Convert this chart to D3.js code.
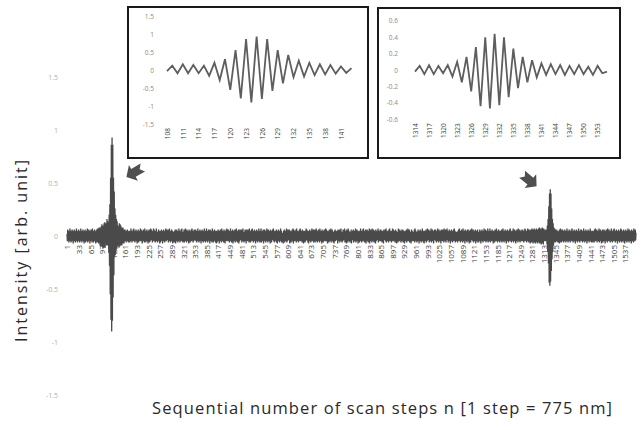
<!DOCTYPE html>
<html lang="en">
<head>
<meta charset="UTF-8">
<title>Interferogram scan</title>
<script src="https://cdn.jsdelivr.net/npm/d3@7"></script>
<style>
  body { margin: 0; background: #fff; }
  text { font-family: "Open Sans", "DejaVu Sans", sans-serif; }
</style>
</head>
<body>
<svg id="main" width="642" height="430"></svg>
<script>
const svg = d3.select('svg#main');

// scan segments, each one starts at its own step number
const segmentStarts = [1, 108, 144, 1314, 1356];

// baseline before first burst (hundredths)
const noiseA = [
  2,-5,6,-4,5,-6,3,-5,7,-4,5,-6,4,-5,6,-3,5,-7,4,-5,6,-4,3,-6,5,-5,7,-4,4,-6,
  5,-4,6,-5,3,-6,5,-4,7,-5,4,-6,5,-3,6,-5,4,-7,5,-4,6,-6,3,-5,5,-4,7,-6,4,-5,
  6,-4,5,-7,4,-5,6,-3,5,-6,7,-4,4,-6,5,-5,6,-4,3,-7,5,-5,6,-6,7,-5,6,-7,8,-6,
  8,-9,7,-10,9,-8,11,-10,9,-12,10,-11,12,-10,13,-11,12
];

// first burst, steps 108..143
const inset1Values = [
  -0.03,0.12,-0.09,0.16,-0.09,0.14,-0.09,0.12,-0.16,0.2,
  -0.28,0.3,-0.55,0.55,-0.79,0.86,-0.9,0.93,-0.8,0.86,
  -0.58,0.55,-0.37,0.42,-0.2,0.26,-0.18,0.2,-0.14,0.16,
  -0.12,0.14,-0.1,0.1,-0.08,0.05
];

// baseline between bursts (hundredths)
const noiseB = [
  -11,12,-10,11,-9,10,-9,8,-9,8,-7,8,-7,6,-7,6,-5,6,-5,4,-6,5,-4,6,-5,3,-6,5,-4,5,
  -6,4,-5,7,-4,5,-6,3,-5,6,-4,7,-5,4,-6,5,-3,6,-5,4,-7,5,-4,6,-6,3,-5,5,-4,7,
  -5,6,-4,5,-7,4,-5,6,-3,5,-6,7,-4,4,-6,5,-5,6,-4,3,-7,5,-5,6,-6,4,-5,7,-4,6,
  -4,5,-6,4,-5,7,-3,6,-5,4,-6,5,-4,7,-5,3,-6,4,-5,6,-4,5,-7,4,-6,5,-3,6,-5,4,
  -7,5,-4,6,-5,3,-6,5,-4,7,-5,6,-4,5,-3,6,-6,4,-5,7,-4,5,-6,3,-5,6,-4,5,-7,4,
  -5,4,-6,5,-4,6,-7,3,-5,6,-4,5,-6,4,-5,7,-3,5,-6,4,-5,6,-4,7,-5,4,-6,3,-5,6,
  -6,5,-3,7,-5,4,-6,6,-4,5,-5,3,-7,6,-4,5,-6,4,-3,6,-5,7,-4,5,-6,4,-5,6,-3,5,
  -4,6,-5,5,-6,3,-4,7,-5,4,-6,5,-5,6,-3,4,-7,5,-4,6,-5,5,-6,3,-4,7,-5,4,-6,5,
  -5,7,-4,4,-6,5,-3,6,-5,4,-7,6,-4,5,-5,3,-6,7,-4,5,-6,4,-5,6,-3,5,-6,4,-7,5,
  -6,4,-5,6,-4,5,-7,5,-3,6,-5,4,-6,7,-4,5,-5,3,-6,6,-4,5,-7,4,-5,6,-3,7,-5,4,
  -3,6,-5,5,-6,4,-4,7,-5,3,-6,5,-4,6,-7,4,-5,5,-3,6,-6,4,-5,7,-4,5,-6,3,-5,6,
  -7,4,-5,6,-4,5,-3,6,-6,5,-4,7,-5,4,-6,3,-5,6,-4,5,-7,6,-3,4,-5,6,-4,5,-6,7,
  -5,5,-6,4,-4,6,-5,7,-3,5,-6,4,-5,6,-4,3,-7,5,-5,6,-4,4,-6,5,-3,7,-5,4,-6,5,
  -4,7,-6,5,-5,3,-4,6,-7,5,-3,6,-5,4,-6,5,-4,7,-5,3,-6,6,-4,5,-5,4,-7,6,-3,5,
  -6,5,-4,6,-3,7,-5,4,-6,5,-5,3,-4,6,-6,5,-7,4,-5,6,-3,5,-6,4,-4,7,-5,5,-6,3,
  -5,3,-7,5,-4,6,-6,4,-5,5,-3,7,-6,4,-5,6,-4,5,-3,6,-7,4,-5,5,-6,3,-4,6,-5,7,
  -7,6,-4,5,-5,4,-3,6,-6,7,-5,4,-4,5,-6,3,-5,6,-4,7,-5,5,-3,4,-6,6,-5,4,-7,5,
  -4,5,-6,3,-5,7,-4,6,-3,5,-6,4,-7,5,-5,6,-4,3,-6,5,-4,7,-5,4,-3,6,-6,5,-4,6,
  -6,4,-3,7,-5,5,-6,4,-4,6,-5,3,-6,7,-4,5,-5,4,-7,6,-3,5,-6,4,-5,6,-4,3,-5,7,
  -5,6,-5,4,-7,5,-4,3,-6,6,-5,4,-3,7,-6,5,-4,6,-5,3,-6,4,-7,5,-4,6,-5,5,-3,4,
  -4,5,-7,6,-3,4,-5,6,-6,5,-4,7,-5,3,-6,4,-5,6,-4,5,-3,7,-6,4,-5,5,-7,6,-4,3,
  -6,7,-4,5,-5,4,-6,3,-5,6,-7,4,-4,5,-3,6,-6,5,-5,4,-4,7,-6,3,-5,6,-4,5,-7,4,
  -3,5,-6,4,-5,7,-4,5,-6,3,-5,6,-4,7,-5,4,-6,5,-3,6,-7,4,-5,6,-4,5,-6,3,-5,7,
  -7,4,-5,6,-3,5,-6,7,-4,4,-5,6,-6,3,-4,5,-7,6,-5,4,-4,5,-3,7,-6,5,-4,4,-5,6,
  -5,6,-4,3,-6,5,-5,4,-7,6,-3,5,-4,6,-5,7,-6,4,-4,5,-5,3,-6,6,-4,7,-5,4,-3,5,
  -6,3,-5,7,-4,6,-5,4,-3,5,-6,6,-4,5,-7,4,-5,3,-6,7,-4,5,-5,6,-3,4,-6,5,-5,6,
  -4,6,-6,5,-5,4,-7,5,-4,3,-5,6,-6,4,-3,7,-5,5,-4,6,-6,4,-5,3,-7,6,-4,5,-5,4,
  -5,4,-3,6,-6,7,-4,5,-5,4,-6,3,-5,6,-4,5,-7,4,-3,6,-5,5,-6,4,-4,7,-5,3,-6,5,
  -7,5,-5,4,-4,6,-6,3,-5,7,-4,5,-3,6,-6,4,-5,5,-4,7,-6,3,-5,6,-4,4,-7,5,-3,6,
  -4,6,-5,5,-6,4,-3,7,-5,4,-6,6,-4,3,-5,5,-7,6,-4,4,-5,6,-3,5,-6,7,-4,4,-5,6,
  -6,5,-4,7,-3,5,-6,4,-5,6,-4,3,-7,5,-5,6,-4,4,-6,5,-3,6,-5,7,-4,5,-6,3,-5,4,
  -5,3,-6,5,-4,6,-5,7,-3,4,-6,5,-5,6,-4,3,-6,7,-5,4,-4,5,-7,6,-3,5,-5,4,-6,6,
  -3,6,-5,4,-7,5,-4,6,-6,5,-3,7,-4,4,-5,6,-6,3,-5,5,-4,6,-7,4,-5,5,-3,6,-6,4,
  -6,4,-4,6,-5,3,-7,5,-4,6,-5,4,-6,5,-3,7,-5,4,-4,6,-6,5,-5,3,-4,7,-6,5,-5,4,
  -5,7,-6,4,-3,5,-5,6,-4,4,-7,5,-5,3,-6,6,-4,5,-5,7,-3,4,-6,5,-4,6,-5,4,-6,5,
  -4,5,-5,6,-6,4,-4,7,-5,3,-6,5,-3,6,-5,4,-7,5,-4,6,-5,5,-6,4,-3,6,-5,7,-4,5,
  -6,4,-5,5,-4,7,-6,3,-5,6,-4,5,-7,4,-5,6,-3,5,-6,7,-4,4,-5,6,-6,5,-4,3,-5,6,
  -5,6,-4,5,-6,4,-5,7,-3,6,-5,4,-6,5,-4,7,-5,6,-6,5,-4,6,-7,5,-5,6,-6,7,-5,6,
  -7,6,-5,7,-6,6,-7,5,-6,7,-5,6,-7,6,-6,7,-5,8,-7,6,-6,7,-8,6,-7,8,-6,7,-8,7
];

// second burst, steps 1314..1355
const inset2Values = [
  -0.02,0.05,-0.05,0.06,-0.05,0.05,-0.04,0.06,-0.08,0.1,
  -0.15,0.16,-0.26,0.28,-0.44,0.4,-0.47,0.44,-0.43,0.4,
  -0.33,0.26,-0.22,0.16,-0.15,0.12,-0.09,0.08,-0.06,0.07,
  -0.05,0.06,-0.06,0.05,-0.05,0.06,-0.05,0.04,-0.06,0.05,
  -0.04,-0.02
];

// baseline after second burst (hundredths)
const noiseC = [
  -7,6,-6,7,-5,6,-6,5,-5,6,-4,5,-6,4,-5,6,-3,5,-6,4,-5,7,-4,5,-6,3,-5,6,-4,5,
  -6,4,-5,6,-4,7,-5,3,-6,5,-4,6,-5,4,-7,5,-3,6,-5,4,-6,5,-4,7,-5,3,-6,5,-4,6,
  -5,6,-3,5,-6,4,-5,7,-4,5,-6,3,-5,6,-4,5,-7,4,-5,6,-3,5,-6,4,-4,7,-5,5,-6,4,
  -4,5,-6,5,-5,3,-6,6,-4,7,-5,4,-3,6,-6,5,-4,4,-5,7,-6,3,-5,6,-4,5,-7,4,-5,6,
  -6,3,-5,6,-4,5,-7,4,-5,6,-3,5,-6,7,-4,4,-5,6,-5,3,-6,5,-4,7,-5,4,-6,5,-3,6,
  -5,7,-4,4,-6,5,-5,6,-3,5,-7,4,-4,6,-5,5,-6,3,-4,7,-5,6,-6,4,-5,5,-3,6,-6,4,
  -7,5,-4,6,-5,4,-6,5,-3,7,-5,4,-6,6,-4,5,-5,3,-7,6,-4,5,-5,4,-6,7,-3,5,-5,6,
  -4,3
];

const mainTicks = [1,33,65,97,129,161,193,225,257,289,321,353,385,417,449,481,513,545,577,609,
  641,673,705,737,769,801,833,865,897,929,961,993,1025,1057,1089,1121,1153,1185,1217,1249,
  1281,1313,1345,1377,1409,1441,1473,1505,1537];
const mainYTicks = [1.5, 1, 0.5, 0, -0.5, -1, -1.5];
const inset1Ticks = [108,111,114,117,120,123,126,129,132,135,138,141];
const inset1YTicks = [1.5, 1, 0.5, 0, -0.5, -1, -1.5];
const inset2Ticks = [1314,1317,1320,1323,1326,1329,1332,1335,1338,1341,1344,1347,1350,1353];
const inset2YTicks = [0.6, 0.4, 0.2, 0, -0.2, -0.4, -0.6];

// build the full scan from the segments
const segments = [
  noiseA.map(v => v / 100), inset1Values,
  noiseB.map(v => v / 100), inset2Values,
  noiseC.map(v => v / 100)
];
const mainData = [];
segments.forEach(function(seg, s) {
  seg.forEach(function(v, i) { mainData.push({n: segmentStarts[s] + i, v: v}); });
});
const inset1Data = inset1Values.map((v, i) => ({n: 108 + i, v: v}));
const inset2Data = inset2Values.map((v, i) => ({n: 1314 + i, v: v}));

// ---- main chart ----
const x = d3.scaleLinear().domain([1, 1567]).range([67, 636]);
const y = d3.scaleLinear().domain([-1.5, 1.5]).range([395, 77]);

const yAx = svg.append('g')
  .attr('transform', 'translate(58,0)')
  .call(d3.axisLeft(y).tickValues(mainYTicks).tickSize(0).tickPadding(0).tickFormat(d => String(d)));
yAx.select('.domain').remove();
yAx.selectAll('text').attr('fill', '#b0b0b0').attr('font-size', 7)
  .attr('font-family', '"Open Sans", sans-serif');

const xAx = svg.append('g')
  .attr('transform', 'translate(0,' + y(0) + ')')
  .call(d3.axisBottom(x).tickValues(mainTicks).tickSize(0).tickFormat(d3.format('d')));
xAx.select('.domain').remove();
xAx.selectAll('text')
  .attr('transform', 'rotate(-90)')
  .attr('x', -9).attr('y', 0).attr('dy', '0.35em')
  .attr('text-anchor', 'end')
  .attr('fill', '#3c3c3c').attr('font-size', 8)
  .attr('font-family', '"Open Sans", sans-serif');

const mainLine = d3.line().x(d => x(d.n)).y(d => y(d.v));
svg.append('path')
  .datum(mainData)
  .attr('d', mainLine)
  .attr('fill', 'none')
  .attr('stroke', '#4a4a4a')
  .attr('stroke-width', 1.3);

svg.append('text')
  .attr('x', 382).attr('y', 414)
  .attr('text-anchor', 'middle')
  .attr('font-size', 16.5).attr('fill', '#2a2a2a')
  .attr('textLength', 460).attr('lengthAdjust', 'spacing')
  .text('Sequential number of scan steps n [1 step = 775 nm]');

svg.append('text')
  .attr('transform', 'translate(27,251) rotate(-90)')
  .attr('text-anchor', 'middle')
  .attr('font-size', 16).attr('fill', '#2a2a2a')
  .attr('textLength', 182).attr('lengthAdjust', 'spacing')
  .text('Intensity [arb. unit]');

// ---- insets ----
function drawInset(box, data, xs, ys, xTicks, yTicks, yLabelX) {
  const g = svg.append('g');
  g.append('rect')
    .attr('x', box[0]).attr('y', box[1])
    .attr('width', box[2] - box[0]).attr('height', box[3] - box[1])
    .attr('fill', '#fff').attr('stroke', '#1a1a1a').attr('stroke-width', 2);

  const ya = g.append('g')
    .attr('transform', 'translate(' + yLabelX + ',0)')
    .call(d3.axisLeft(ys).tickValues(yTicks).tickSize(0).tickPadding(0).tickFormat(d => String(d)));
  ya.select('.domain').remove();
  ya.selectAll('text').attr('fill', '#8a8a8a').attr('font-size', 6.5)
    .attr('font-family', '"Open Sans", sans-serif');

  const xa = g.append('g')
    .attr('transform', 'translate(0,' + (ys.range()[0] + 4) + ')')
    .call(d3.axisBottom(xs).tickValues(xTicks).tickSize(0).tickFormat(d3.format('d')));
  xa.select('.domain').remove();
  xa.selectAll('text')
    .attr('transform', 'rotate(-90)')
    .attr('x', 0).attr('y', 0).attr('dy', '0.35em')
    .attr('text-anchor', 'end')
    .attr('fill', '#3a3a3a').attr('font-size', 6.5)
    .attr('font-family', '"Open Sans", sans-serif');

  g.append('path')
    .datum(data)
    .attr('d', d3.line().x(d => xs(d.n)).y(d => ys(d.v)))
    .attr('fill', 'none')
    .attr('stroke', '#5e5e5e')
    .attr('stroke-width', 1.8);
}

const x1 = d3.scaleLinear().domain([108, 143]).range([167, 351.5]);
const y1 = d3.scaleLinear().domain([-1.5, 1.5]).range([124, 16]);
drawInset([128, 7, 368, 158], inset1Data, x1, y1, inset1Ticks, inset1YTicks, 154);

const x2 = d3.scaleLinear().domain([1314, 1355]).range([415, 607]);
const y2 = d3.scaleLinear().domain([-0.6, 0.6]).range([119.2, 20.8]);
drawInset([378, 8, 620, 158], inset2Data, x2, y2, inset2Ticks, inset2YTicks, 398);

// ---- pointer arrows ----
const arrowShape = [[-10,-5],[2,-5],[2,-10],[11,0],[2,10],[2,5],[-10,5],[-6,0]];
[[135, 172, 150], [529, 180, 40]].forEach(function(a) {
  svg.append('polygon')
    .attr('points', arrowShape.map(p => p.join(',')).join(' '))
    .attr('transform', 'translate(' + a[0] + ',' + a[1] + ') rotate(' + a[2] + ') scale(0.9)')
    .attr('fill', '#4f4f4f');
});
</script>
</body>
</html>
